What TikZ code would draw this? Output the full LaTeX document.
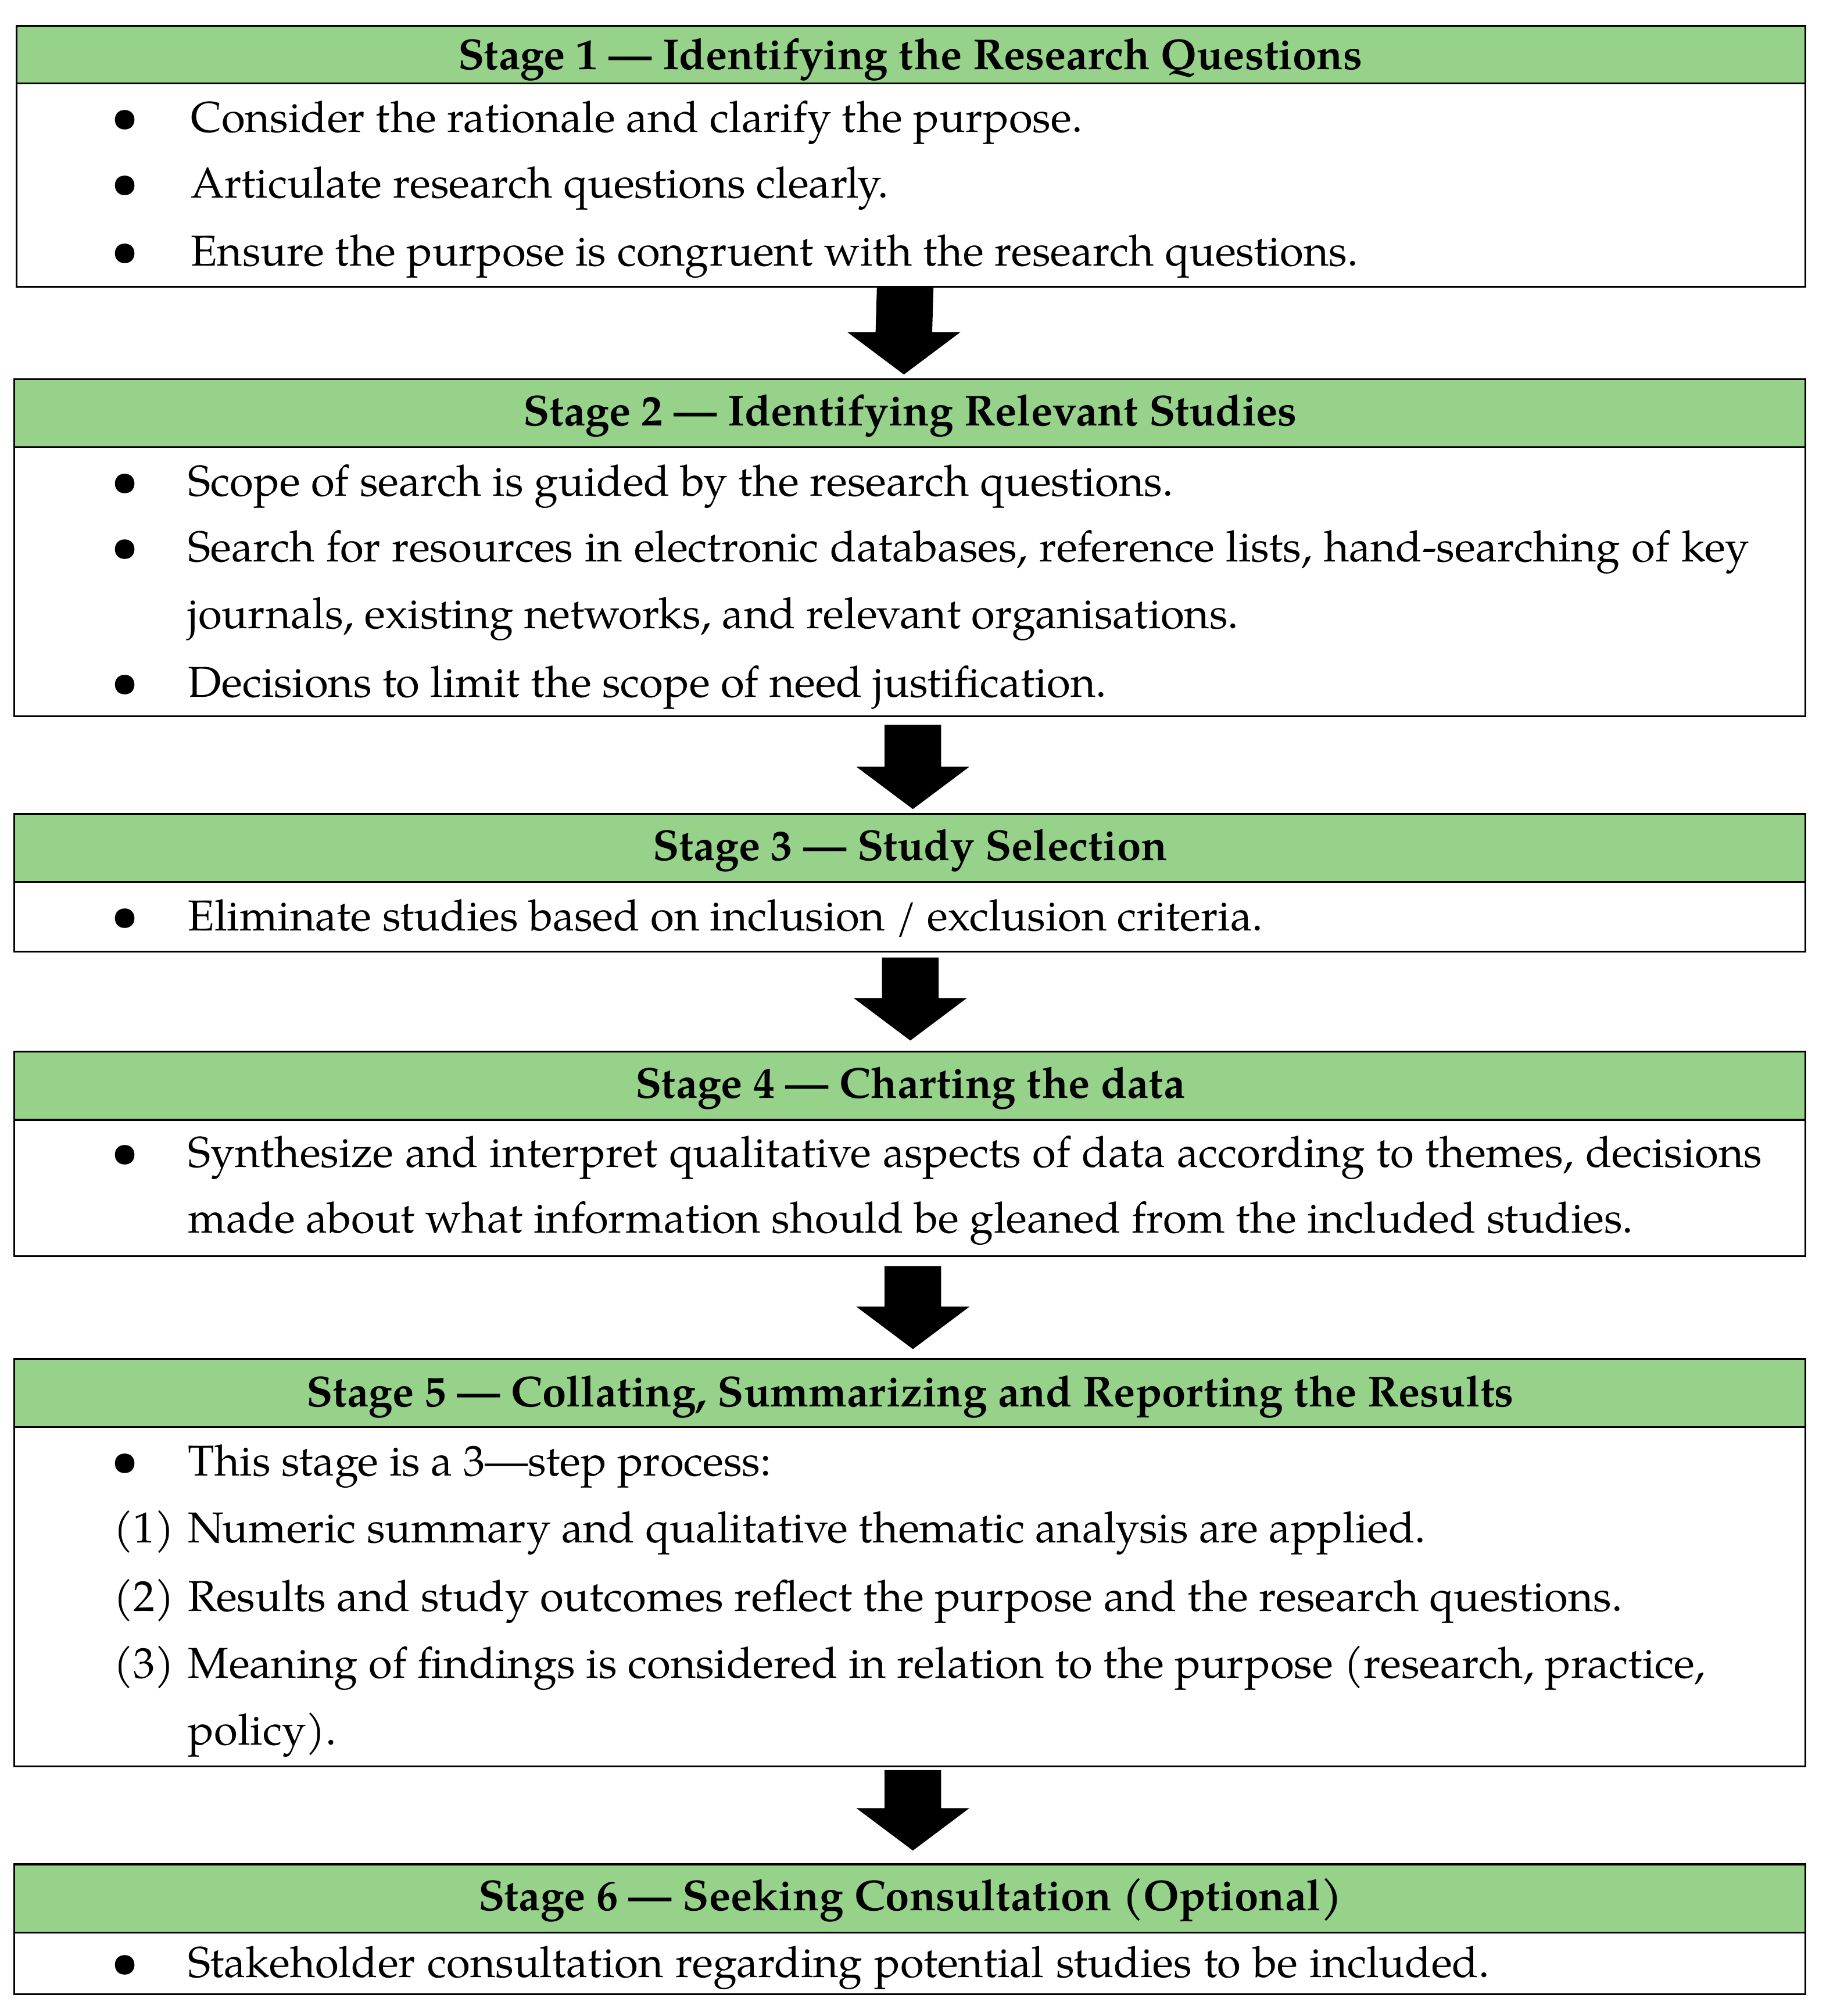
\documentclass[tikz,border=0pt]{standalone}
\usepackage{fontspec}
\setmainfont{TeX Gyre Pagella}
\usetikzlibrary{fit,calc}
\definecolor{hdrgreen}{RGB}{150,210,138}
\newcommand\stagearrow[5]{%
 \fill[blockarrow] ($(#1.south)+(#3-22,#4)$) -- ($(#1.south)+(#3+22,#4)$) -- ($(#2.north)+(#3+22,-#5-33)$) -- ($(#2.north)+(#3+44,-#5-33)$) -- ($(#2.north)+(#3,-#5)$) -- ($(#2.north)+(#3-44,-#5-33)$) -- ($(#2.north)+(#3-22,-#5-33)$) -- cycle;}
\begin{document}
\begin{tikzpicture}[x=0.5pt,y=-0.5pt,
  stagebox/.style={draw=black,line width=0.7pt,fill=white,inner sep=0pt},
  hdrbox/.style={draw=black,line width=0.7pt,fill=hdrgreen,inner sep=0pt},
  ttl/.style={anchor=base,inner sep=0pt,font=\fontsize{16.8}{20}\selectfont\bfseries},
  txt/.style={anchor=base west,inner sep=0pt,font=\fontsize{16.8}{20}\selectfont},
  num/.style={anchor=base west,inner sep=0pt,font=\fontsize{16.8}{20}\selectfont},
  bul/.style={anchor=base,inner sep=0pt,font=\fontsize{19}{22}\selectfont},
  blockarrow/.style={fill=black}]
\useasboundingbox (0,0) rectangle (1420,1568);
% Stage 1
\node[stagebox,fit={(13,20) (1404,223)}] (s1) {};
\node[hdrbox,fit={(13,20) (1404,65)}] (h1) {};
\node[ttl] (t1) at (708,54) {Stage 1 — Identifying the Research Questions};
\node[bul] (b11) at (97,103) {\textbullet};
\node[txt] (l11) at (148,103) {Consider the rationale and clarify the purpose.};
\node[bul] (b12) at (97,154) {\textbullet};
\node[txt] (l12) at (148,154) {Articulate research questions clearly.};
\node[bul] (b13) at (97,207) {\textbullet};
\node[txt] (l13) at (148,207) {Ensure the purpose is congruent with the research questions.};
% Stage 2
\node[stagebox,fit={(11,295) (1404,557)}] (s2) {};
\node[hdrbox,fit={(11,295) (1404,348)}] (h2) {};
\node[ttl] (t2) at (708,331) {Stage 2 — Identifying Relevant Studies};
\node[bul] (b21) at (97,386) {\textbullet};
\node[txt] (l21) at (146,386) {Scope of search is guided by the research questions.};
\node[bul] (b22) at (97,437) {\textbullet};
\node[txt] (l22) at (146,437) {\makebox[607pt][s]{Search for resources in electronic databases, reference lists, hand-searching of key}};
\node[txt] (l22b) at (146,489) {journals, existing networks, and relevant organisations.};
\node[bul] (b23) at (97,542) {\textbullet};
\node[txt] (l23) at (146,542) {Decisions to limit the scope of need justification.};
% Stage 3
\node[stagebox,fit={(11,633) (1404,740)}] (s3) {};
\node[hdrbox,fit={(11,633) (1404,686)}] (h3) {};
\node[ttl] (t3) at (708,669) {Stage 3 — Study Selection};
\node[bul] (b31) at (97,724) {\textbullet};
\node[txt] (l31) at (146,724) {Eliminate studies based on inclusion / exclusion criteria.};
% Stage 4
\node[stagebox,fit={(11,818) (1404,977)}] (s4) {};
\node[hdrbox,fit={(11,818) (1404,871)}] (h4) {};
\node[ttl] (t4) at (708,854) {Stage 4 — Charting the data};
\node[bul] (b41) at (97,908) {\textbullet};
\node[txt] (l41) at (146,908) {\makebox[612pt][s]{Synthesize and interpret qualitative aspects of data according to themes, decisions}};
\node[txt] (l41b) at (146,959) {made about what information should be gleaned from the included studies.};
% Stage 5
\node[stagebox,fit={(11,1057) (1404,1374)}] (s5) {};
\node[hdrbox,fit={(11,1057) (1404,1110)}] (h5) {};
\node[ttl] (t5) at (708,1094) {Stage 5 — Collating, Summarizing and Reporting the Results};
\node[bul] (b51) at (97,1148) {\textbullet};
\node[txt] (l51) at (146,1148) {This stage is a 3—step process:};
\node[num] (n52) at (88,1200) {(1)};
\node[txt] (l52) at (146,1200) {Numeric summary and qualitative thematic analysis are applied.};
\node[num] (n53) at (88,1253) {(2)};
\node[txt] (l53) at (146,1253) {Results and study outcomes reflect the purpose and the research questions.};
\node[num] (n54) at (88,1305) {(3)};
\node[txt] (l54) at (146,1305) {\makebox[590pt][s]{Meaning of findings is considered in relation to the purpose (research, practice,}};
\node[txt] (l54b) at (146,1357) {policy).};
% Stage 6
\node[stagebox,fit={(11,1450) (1404,1551)}] (s6) {};
\node[hdrbox,fit={(11,1450) (1404,1503)}] (h6) {};
\node[ttl] (t6) at (708,1486) {Stage 6 — Seeking Consultation (Optional)};
\node[bul] (b61) at (97,1538) {\textbullet};
\node[txt] (l61) at (146,1538) {\makebox[506pt][s]{Stakeholder consultation regarding potential studies to be included.}};
% arrows
\stagearrow{s1}{s2}{-4.5}{0}{3}
\stagearrow{s2}{s3}{2.5}{6}{3}
\stagearrow{s3}{s4}{0.5}{4}{8}
\stagearrow{s4}{s5}{2.5}{7}{7}
\stagearrow{s5}{s6}{2.5}{2}{10}
\end{tikzpicture}
\end{document}
